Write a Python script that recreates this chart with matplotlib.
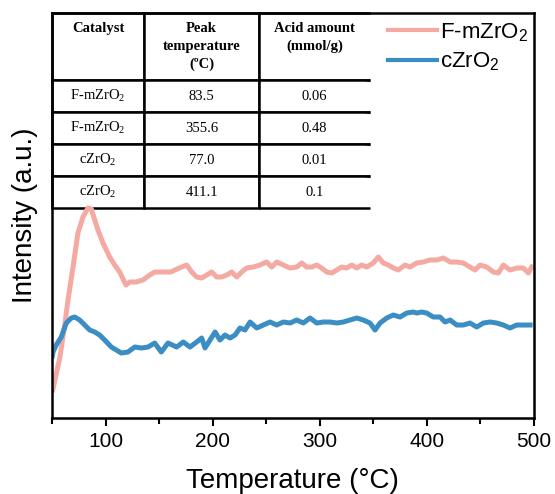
import matplotlib.pyplot as plt
from matplotlib.ticker import MultipleLocator

plt.rcParams['font.family'] = ['Liberation Sans', 'DejaVu Sans']

# TPD traces (temperature in degC, intensity in a.u.)
temp_f = [50.4, 57.2, 61.9, 64.7, 69.4, 74.0, 78.7, 83.4, 86.5, 89.7, 92.7, 97.4, 103.7, 108.4,
          113.0, 118.9, 122.4, 128.3, 134.8, 141.1, 145.8, 153.5, 161.0, 164.7, 171.0, 175.7,
          180.4, 185.0, 189.7, 194.4, 199.1, 203.7, 208.4, 213.1, 217.8, 222.5, 227.1, 231.8,
          238.0, 244.2, 250.5, 255.2, 259.9, 266.0, 272.3, 278.6, 283.2, 287.9, 292.6, 297.3,
          301.9, 306.6, 311.3, 316.0, 320.6, 325.3, 330.0, 334.7, 339.3, 344.0, 350.2, 354.9,
          359.5, 364.2, 368.9, 373.6, 379.8, 384.5, 390.8, 396.9, 403.2, 409.5, 415.7, 422.0,
          428.2, 434.4, 440.6, 445.3, 450.0, 456.2, 462.4, 467.1, 471.8, 478.0, 484.3, 490.5,
          495.2, 498.3]
int_f = [28, 61, 95, 118, 151, 185, 201, 210, 209, 198, 188, 175, 161, 153,
         146, 133, 136, 136, 138, 143, 146, 146, 146, 148, 151, 153,
         146, 141, 140, 143, 146, 141, 141, 143, 146, 141, 146, 150,
         151, 153, 156, 151, 156, 153, 150, 151, 155, 151, 151, 153,
         150, 146, 145, 148, 151, 150, 153, 150, 153, 151, 155, 161,
         155, 153, 150, 148, 153, 151, 155, 156, 158, 158, 160, 156,
         156, 155, 151, 148, 153, 151, 146, 145, 153, 148, 150, 150,
         145, 151]

temp_c = [50.0, 50.7, 53.7, 58.4, 63.1, 67.8, 71.0, 75.6, 80.3, 85.0, 89.7, 94.3, 99.0, 105.2,
          109.9, 114.5, 120.8, 127.1, 133.2, 139.5, 145.8, 151.9, 158.2, 166.3, 172.5, 178.8,
          185.0, 189.7, 192.8, 197.5, 202.2, 206.8, 211.5, 216.2, 220.9, 225.5, 230.2, 234.9,
          241.2, 247.3, 253.6, 259.9, 266.0, 272.3, 278.6, 284.7, 291.0, 297.3, 303.4, 309.7,
          316.0, 322.1, 328.4, 334.7, 340.8, 347.1, 351.8, 356.5, 362.7, 368.9, 375.2, 381.4,
          387.6, 390.8, 395.5, 400.1, 406.3, 412.6, 417.3, 422.0, 428.2, 434.4, 440.6, 446.9,
          453.1, 459.4, 465.6, 471.8, 478.0, 484.3, 490.5, 496.8]
int_c = [62, 66, 73, 81, 95, 100, 101, 98, 93, 88, 86, 83, 78, 71,
         68, 65, 66, 71, 70, 71, 75, 66, 75, 71, 76, 71,
         76, 80, 70, 78, 86, 78, 83, 80, 83, 90, 88, 96,
         90, 93, 96, 93, 96, 95, 98, 95, 100, 95, 96, 96,
         95, 96, 98, 100, 98, 95, 88, 95, 100, 103, 101, 105,
         106, 105, 106, 105, 101, 101, 96, 98, 93, 93, 95, 91,
         95, 96, 95, 93, 90, 93, 93, 93]

series_labels = ['F-mZrO$\\mathregular{_2}$', 'cZrO$\\mathregular{_2}$']
series_colors = ['#f4aaa2', '#3b8ec3']

# inset table
table_header = ['Catalyst\n\n', 'Peak\ntemperature\n(\u00baC)', 'Acid amount\n(mmol/g)\n']
table_catalyst = ['F-mZrO$\\mathregular{_2}$', 'F-mZrO$\\mathregular{_2}$',
                  'cZrO$\\mathregular{_2}$', 'cZrO$\\mathregular{_2}$']
table_peak = ['83.5', '355.6', '77.0', '411.1']
table_acid = ['0.06', '0.48', '0.01', '0.1']

fig = plt.figure(figsize=(5.55, 4.94), dpi=100)
ax = fig.add_axes([0.0942, 0.1538, 0.8671, 0.8199])

ax.plot(temp_f, int_f, color=series_colors[0], lw=3.6, label=series_labels[0])
ax.plot(temp_c, int_c, color=series_colors[1], lw=3.6, label=series_labels[1])

ax.set_xlim(50, 500)
ax.set_ylim(0, 405)
ax.xaxis.set_major_locator(MultipleLocator(100))
ax.xaxis.set_minor_locator(MultipleLocator(50))
ax.set_yticks([])
ax.tick_params(axis='x', which='major', direction='out', length=6, width=1.5,
               labelsize=15, pad=4)
ax.tick_params(axis='x', which='minor', direction='out', length=4, width=1.5)
for sp in ax.spines.values():
    sp.set_linewidth(1.8)

ax.set_xlabel('Temperature (\u00b0C)', fontsize=20, labelpad=12)
ax.set_ylabel('Intensity (a.u.)', fontsize=20, labelpad=10)

leg = ax.legend(loc='upper right', frameon=False, fontsize=16, handlelength=2.2,
                handletextpad=0.15, labelspacing=0.3, borderaxespad=0.2,
                bbox_to_anchor=(1.016, 1.013))
for line in leg.get_lines():
    line.set_linewidth(3)

cells = [[c, p, a] for c, p, a in zip(table_catalyst, table_peak, table_acid)]
tab = ax.table(cellText=[table_header] + cells, cellLoc='center',
               colWidths=[0.1906, 0.2396, 0.2300],
               bbox=[0.0, 0.5185, 0.660, 0.4815])
tab.auto_set_font_size(False)
for (r, c), cell in tab.get_celld().items():
    cell.set_linewidth(1.8)
    cell.set_height(67 if r == 0 else 32)
    cell.set_text_props(fontfamily='Liberation Serif', fontsize=10.5)
    if r == 0:
        cell.set_text_props(fontweight='bold', linespacing=1.45)
    if c == 2:
        cell.visible_edges = 'BTL'

fig.savefig('out.png', dpi=100)
